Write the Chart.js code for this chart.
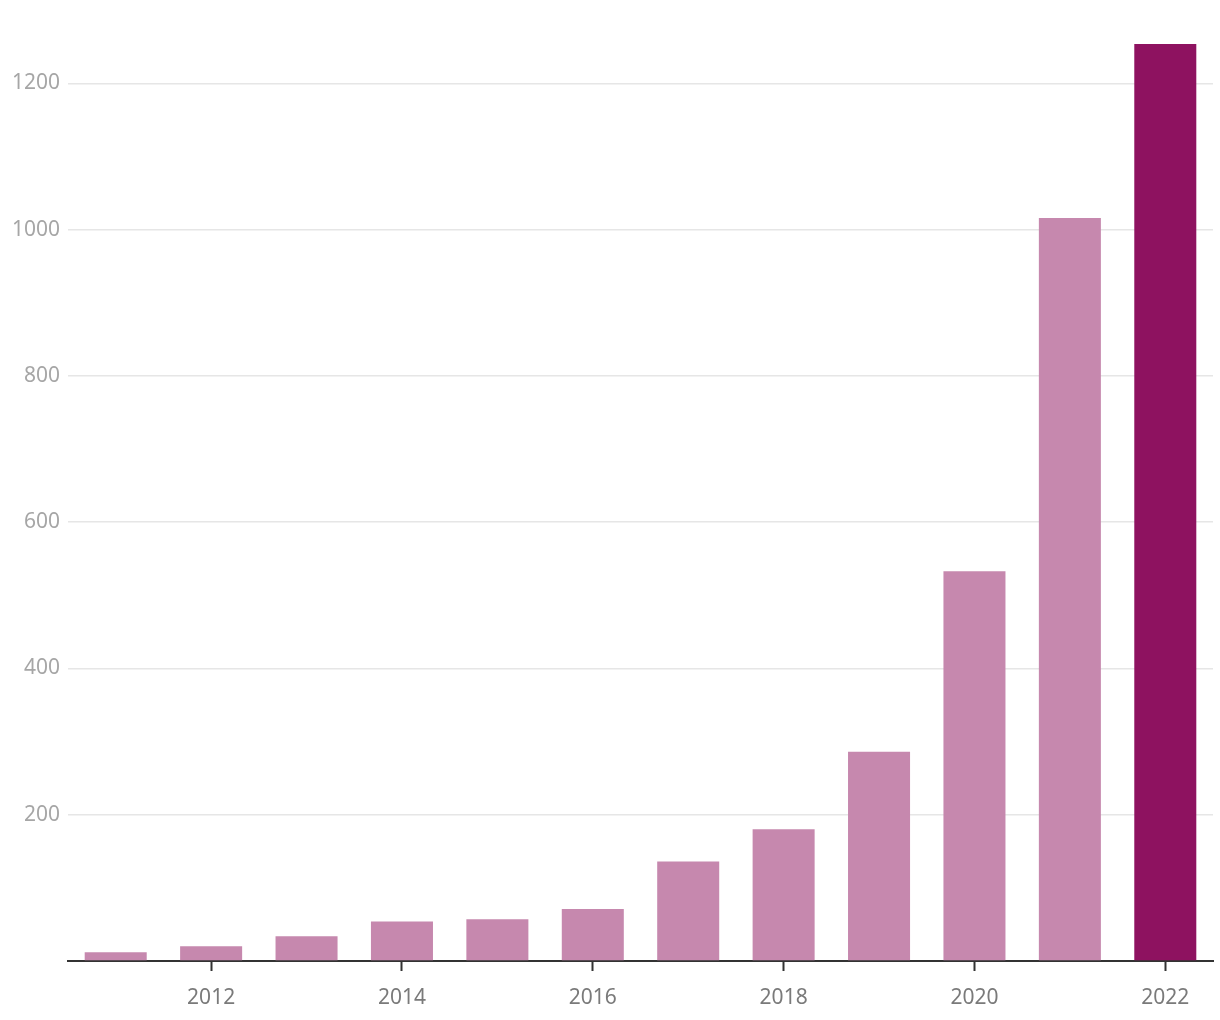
<!DOCTYPE html>
<html>
<head>
<meta charset="utf-8">
<script src="https://cdn.jsdelivr.net/npm/chart.js@4"></script>
<style>
  html, body { margin: 0; padding: 0; background: #fff; }
  #wrap { width: 1220px; height: 1020px; }
</style>
</head>
<body>
<div id="wrap"><canvas id="myChart"></canvas></div>
<script>
// data
const years = ['2011', '2012', '2013', '2014', '2015', '2016', '2017', '2018', '2019', '2020', '2021', '2022'];
const values = [12, 20, 34, 54, 57, 71, 136, 180, 286, 533, 1016, 1254];
const yTicks = [0, 200, 400, 600, 800, 1000, 1200];

const lightBar = '#c688ae';
const darkBar = '#8e1260';
const barColors = years.map((y, i) => i === years.length - 1 ? darkBar : lightBar);

const ctx = document.getElementById('myChart').getContext('2d');
const myChart = new Chart(ctx, {
    type: 'bar',
    data: {
        labels: years,
        datasets: [{
            data: values,
            backgroundColor: barColors,
            borderWidth: 0,
            barPercentage: 0.65,
            categoryPercentage: 1
        }]
    },
    options: {
        responsive: true,
        maintainAspectRatio: false,
        animation: false,
        layout: { padding: { top: 44, right: 7, left: 0, bottom: 0 } },
        plugins: {
            legend: { display: false },
            tooltip: { enabled: false }
        },
        scales: {
            x: {
                offset: true,
                border: { display: true, color: '#333', width: 2 },
                grid: {
                    display: true,
                    drawOnChartArea: false,
                    drawTicks: true,
                    tickLength: 10,
                    tickColor: '#333',
                    tickWidth: 2,
                    offset: false
                },
                ticks: {
                    autoSkip: false,
                    maxRotation: 0,
                    padding: 14,
                    color: '#7a7a7a',
                    font: { family: 'Noto Sans', size: 21 },
                    callback: function (val, i) {
                        const y = years[i];
                        return Number(y) % 2 === 0 ? y : null;
                    }
                },
                afterFit: function (scale) { scale.height = 59; }
            },
            y: {
                min: 0,
                max: 1254,
                border: { display: false },
                grid: {
                    color: function (c) { return c.tick.value === 0 ? 'rgba(0,0,0,0)' : '#e6e6e6'; },
                    lineWidth: 1.5,
                    drawTicks: false
                },
                ticks: {
                    stepSize: 200,
                    includeBounds: false,
                    padding: 8,
                    color: '#a6a6a6',
                    font: { family: 'Noto Sans', size: 21 },
                    callback: function (val) { return yTicks.includes(val) && val !== 0 ? String(val) : ''; }
                },
                afterFit: function (scale) { scale.width = 68; }
            }
        }
    }
});
</script>
</body>
</html>
